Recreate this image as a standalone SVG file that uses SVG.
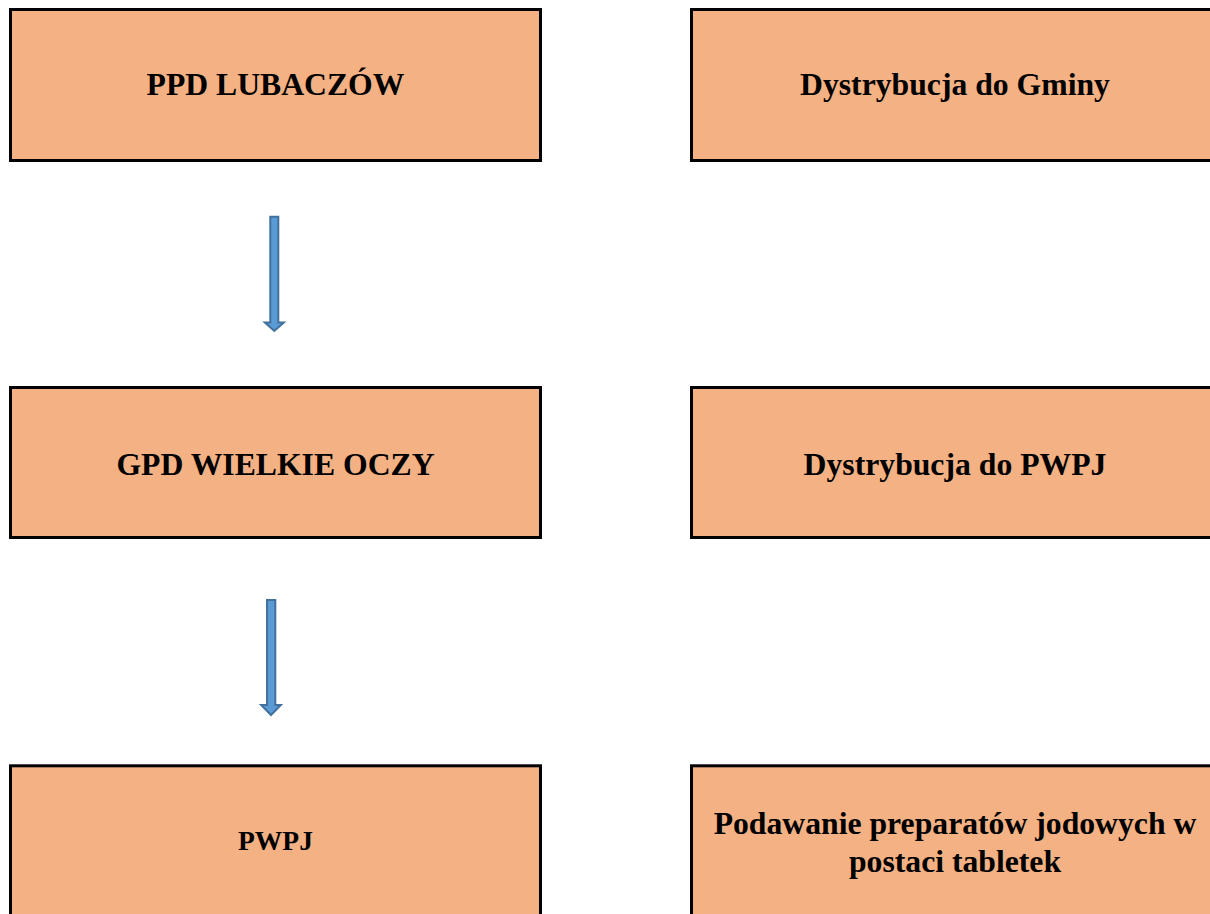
<svg xmlns="http://www.w3.org/2000/svg" width="1210" height="914" viewBox="0 0 1210 914">
<style>
.box{fill:#f4b183;stroke:#000;stroke-width:3}
.t{font-family:"Liberation Serif","Times New Roman",serif;font-weight:bold;font-size:31.7px;fill:#000;text-anchor:middle}
.arr{fill:#5b9bd5;stroke:#41719c;stroke-width:2;stroke-linejoin:miter}
</style>
<rect width="1210" height="914" fill="#fff"/>
<g id="node-ppd"><rect class="box" x="10.5" y="9.5" width="530" height="151"/><text class="t" x="275.5" y="95">PPD LUBACZÓW</text></g>
<g id="node-gminy"><rect class="box" x="691.5" y="9.5" width="530" height="151"/><text class="t" x="955" y="95">Dystrybucja do Gminy</text></g>
<g id="node-gpd"><rect class="box" x="10.5" y="387.5" width="530" height="150"/><text class="t" x="275.5" y="475">GPD WIELKIE OCZY</text></g>
<g id="node-dpwpj"><rect class="box" x="691.5" y="387.5" width="530" height="150"/><text class="t" x="955" y="475">Dystrybucja do PWPJ</text></g>
<g id="node-pwpj"><rect class="box" x="10.5" y="765.8" width="530" height="160"/><text class="t" x="275.5" y="850" style="font-size:27.5px">PWPJ</text></g>
<g id="node-podawanie"><rect class="box" x="691.5" y="765.8" width="530" height="160"/><text class="t" x="955" y="834.3">Podawanie preparatów jodowych w</text><text class="t" x="955" y="871.7">postaci tabletek</text></g>
<g id="connectors">
<path class="arr" d="M270.3,216.7 H278.3 V322.5 H283.8 L274.3,331 L264.8,322.5 H270.3 Z"/>
<path class="arr" d="M267,600 H275.3 V705 H280.8 L271,715 L261.2,705 H267 Z"/>
</g>
</svg>
